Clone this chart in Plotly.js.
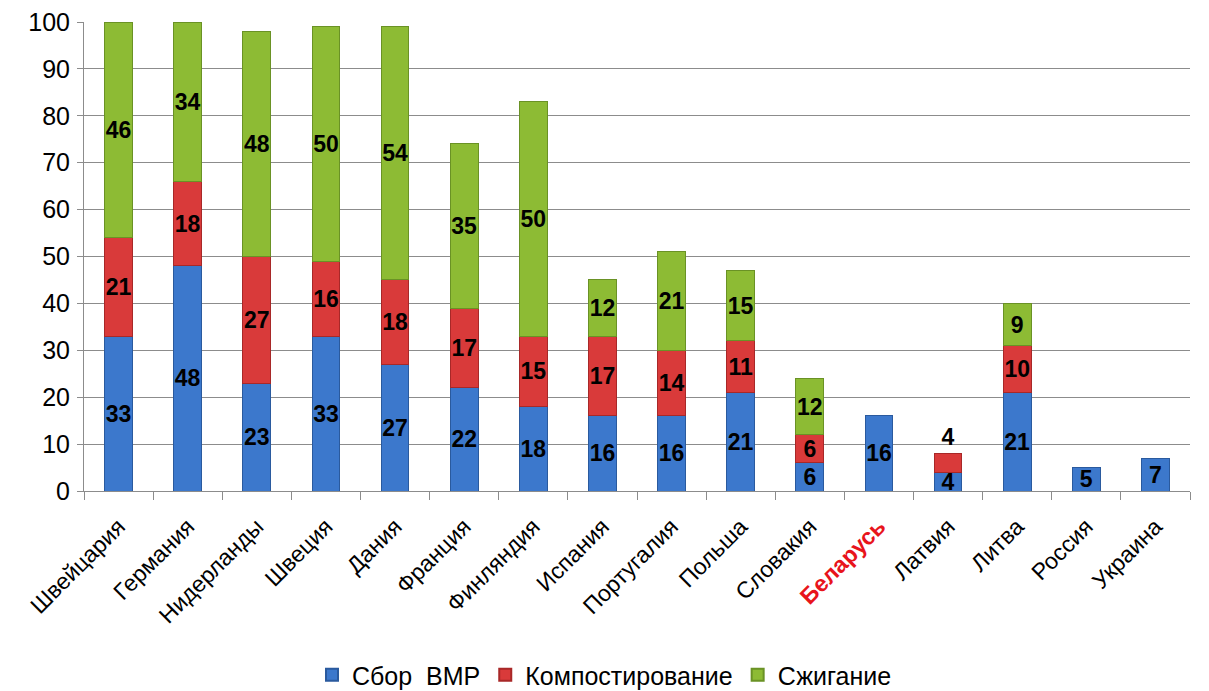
<!DOCTYPE html>
<html><head><meta charset="utf-8">
<script src="https://cdn.plot.ly/plotly-3.0.1.min.js"></script>
<style>html,body{margin:0;padding:0;background:#fff}#chart{width:1209px;height:691px}</style>
</head><body><div id="chart"></div>
<script>
const countries = ["Швейцария","Германия","Нидерланды","Швеция","Дания","Франция","Финляндия","Испания","Португалия","Польша","Словакия","Беларусь","Латвия","Литва","Россия","Украина"];
const tickLabels = ["Швейцария","Германия","Нидерланды","Швеция","Дания","Франция","Финляндия","Испания","Португалия","Польша","Словакия","<b><span style=\"color:#e8141b\">Беларусь</span></b>","Латвия","Литва","Россия","Украина"];
const sbor = [33,48,23,33,27,22,18,16,16,21,6,16,4,21,5,7];
const kompost = [21,18,27,16,18,17,15,17,14,11,6,null,4,10,null,null];
const szhig = [46,34,48,50,54,35,50,12,21,15,12,null,null,9,null,null];
const seriesNames = ["Сбор  ВМР","Компостирование","Сжигание"];
const colors = ["#3c78cc","#d93a3a","#8dbb34"];
const lineColors = ["#2a5a9e","#a82828","#6a9225"];
const vals = [sbor,kompost,szhig];
const traces = vals.map((v,i)=>({
  type:"bar", x:countries, y:v, name:seriesNames[i],
  marker:{color:colors[i], line:{color:lineColors[i], width:1}},
  text:v.map(d=>d==null?"":String(d)),
  textposition:countries.map(c=>(c==="Латвия"&&i===1)?"outside":"inside"),
  insidetextanchor:"middle", cliponaxis:false,
  textangle:0, constraintext:"none",
  textfont:{family:"Arial, Liberation Sans", size:23, color:"#000", weight:"bold"},
  insidetextfont:{family:"Arial, Liberation Sans", size:23, color:"#000", weight:"bold"},
  outsidetextfont:{family:"Arial, Liberation Sans", size:23, color:"#000", weight:"bold"},
  hoverinfo:"skip"
}));
const layout = {
  barmode:"stack", bargap:0.6,
  width:1209, height:691,
  margin:{l:84,r:19,t:22,b:200, autoexpand:false},
  paper_bgcolor:"#fff", plot_bgcolor:"#fff",
  font:{family:"Arial, Liberation Sans", color:"#000"},
  uniformtext:{mode:false},
  xaxis:{type:"category", tickmode:"array", tickvals:countries, ticktext:tickLabels, automargin:false,
    tickangle:-45, tickfont:{size:23}, showline:true, linecolor:"#8c8c8c", linewidth:1,
    ticks:"outside", tickson:"boundaries", ticklen:8, tickcolor:"#8c8c8c", showgrid:false, ticklabelstandoff:12},
  yaxis:{range:[0,100], dtick:10, tickfont:{size:25}, showgrid:true, gridcolor:"#8c8c8c", gridwidth:1, automargin:false,
    showline:true, linecolor:"#8c8c8c", ticks:"outside", ticklen:6, tickcolor:"#8c8c8c", zeroline:false, ticklabelstandoff:2},
  legend:{orientation:"h", x:0.5, xanchor:"center", xref:"container", y:16/691, yref:"container", yanchor:"middle", font:{size:25},
    traceorder:"normal", itemsizing:"constant", itemwidth:30},
  showlegend:true
};
Plotly.newPlot("chart", traces, layout, {displayModeBar:false, staticPlot:true});
</script></body></html>
